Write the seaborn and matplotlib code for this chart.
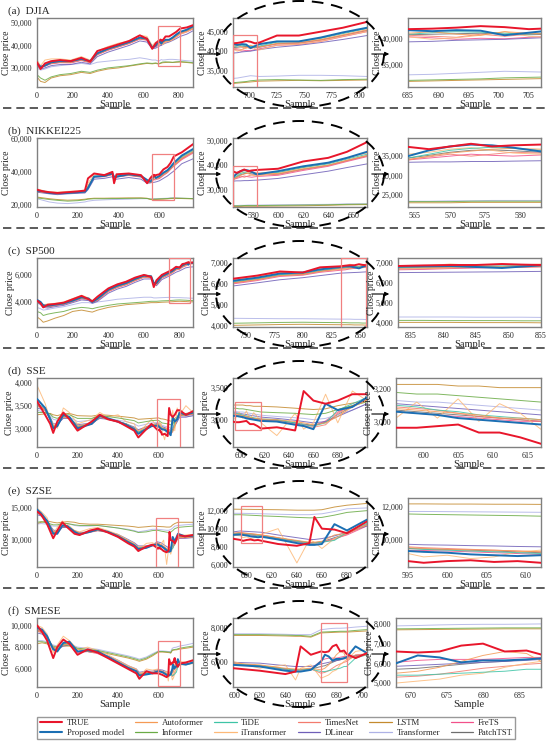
import numpy as np
import pandas as pd
import matplotlib
matplotlib.use('Agg')
import matplotlib.pyplot as plt
import seaborn as sns
from matplotlib.patches import Ellipse, Rectangle, FancyArrowPatch
from matplotlib.lines import Line2D
from matplotlib.ticker import FuncFormatter

# Model names in legend order (column-major, 6 columns x 2 rows)
MODELS = ['TRUE', 'Proposed model', 'Autoformer', 'Informer', 'TiDE', 'iTransformer',
          'TimesNet', 'DLinear', 'LSTM', 'Transformer', 'FreTS', 'PatchTST']

# Prices below are in thousands
PRICE_UNIT = 1000

# ---------------- (a) DJIA ----------------
DJIA_X = [0, 20, 45, 80, 130, 190, 250, 300, 340, 400, 460, 520, 580, 620, 650,
          670, 685, 689, 693, 697, 701, 705, 709, 725, 745, 765, 785, 807, 845, 880]
DJIA_TRUE = [32.5, 29.5, 32.0, 33.0, 33.5, 33.0, 34.5, 32.8, 37.5, 39.0, 40.5, 42.0, 44.5, 43.0, 38.5,
             41.0, 42.0, 42.1, 42.3, 42.6, 42.4, 42.0, 42.2, 44.0, 44.0, 45.0, 46.0, 47.5, 48.0, 49.0]
DJIA_PROPOSED = [32.0, 30.5, 31.0, 32.5, 33.0, 33.0, 34.0, 33.0, 36.5, 38.5, 40.0, 41.5, 43.5, 43.0, 39.0,
                 40.0, 41.8, 41.6, 41.8, 41.7, 40.8, 41.3, 41.8, 42.5, 42.5, 43.5, 44.8, 46.0, 47.0, 48.5]
DJIA_AUTOFORMER = [31.5, 30.0, 31.0, 32.0, 32.5, 32.5, 33.5, 32.5, 36.0, 38.0, 39.5, 41.0, 43.0, 42.5, 39.5,
                   39.8, 41.2, 41.5, 41.0, 40.8, 41.5, 41.2, 41.0, 42.0, 42.2, 43.0, 44.2, 45.5, 46.5, 47.8]
DJIA_INFORMER = [27.0, 25.5, 24.5, 26.0, 27.0, 27.5, 28.5, 28.0, 29.0, 30.0, 30.5, 31.0, 31.8, 32.2, 32.0,
                 32.2, 31.9, 32.0, 32.1, 32.2, 32.4, 32.5, 32.6, 32.7, 32.6, 32.5, 32.7, 32.8, 32.6, 32.3]
DJIA_TIDE = [32.0, 30.5, 31.5, 32.5, 33.0, 32.8, 34.0, 33.0, 36.5, 38.5, 40.0, 41.5, 43.5, 42.8, 39.5,
             40.0, 41.0, 41.3, 41.5, 41.4, 41.2, 41.0, 41.3, 42.3, 42.5, 43.3, 44.5, 45.8, 46.8, 48.0]
DJIA_ITRANSFORMER = [33.5, 31.0, 33.5, 34.0, 34.0, 33.5, 35.0, 33.5, 37.5, 39.5, 41.0, 42.0, 44.5, 44.0, 40.0,
                     41.5, 40.5, 40.0, 40.3, 40.8, 41.5, 40.6, 40.3, 41.5, 41.8, 42.5, 43.8, 45.0, 46.0, 47.5]
DJIA_TIMESNET = [31.8, 30.2, 31.2, 32.2, 32.8, 32.6, 33.8, 32.6, 36.2, 38.2, 39.8, 41.2, 43.2, 42.6, 39.2,
                 39.6, 40.8, 40.6, 40.4, 41.0, 40.6, 41.0, 41.2, 41.8, 42.0, 42.8, 44.0, 45.3, 46.3, 47.6]
DJIA_DLINEAR = [31.0, 29.5, 30.0, 31.0, 31.5, 31.5, 32.5, 31.8, 35.0, 37.0, 38.5, 40.0, 42.0, 41.5, 38.5,
                38.8, 39.5, 39.6, 39.8, 39.9, 40.0, 40.2, 40.4, 41.0, 41.5, 42.2, 43.0, 44.0, 45.0, 46.5]
DJIA_LSTM = [26.0, 24.0, 23.5, 25.5, 26.5, 27.0, 28.0, 27.5, 28.5, 29.5, 30.0, 30.8, 31.5, 32.0, 31.8,
             32.0, 31.7, 31.8, 31.9, 32.0, 32.1, 32.2, 32.3, 32.4, 32.5, 32.4, 32.5, 32.6, 32.4, 32.1]
DJIA_TRANSFORMER = [30.0, 29.0, 29.5, 30.5, 31.0, 31.5, 32.0, 31.5, 32.5, 33.0, 33.5, 33.8, 34.5, 34.0, 33.5,
                    33.5, 33.0, 33.1, 33.3, 33.5, 33.7, 33.6, 33.5, 33.6, 33.8, 33.8, 33.7, 33.5, 33.2, 33.0]
DJIA_FRETS = [31.5, 29.8, 30.8, 31.8, 32.3, 32.2, 33.3, 32.3, 35.8, 37.8, 39.3, 40.8, 42.8, 42.3, 39.0,
              39.3, 40.5, 40.3, 40.0, 40.2, 40.1, 40.4, 40.6, 41.5, 41.7, 42.5, 43.7, 45.0, 46.0, 47.3]
DJIA_PATCHTST = [31.7, 30.0, 31.0, 32.0, 32.5, 32.4, 33.5, 32.5, 36.0, 38.0, 39.5, 41.0, 43.0, 42.5, 39.3,
                 39.5, 40.9, 41.0, 41.1, 41.2, 41.0, 40.9, 41.0, 41.9, 42.1, 42.9, 44.0, 45.3, 46.3, 47.5]

# ---------------- (b) NIKKEI225 ----------------
NIKKEI_X = [0, 30, 60, 100, 150, 200, 235, 250, 280, 330, 370, 378, 390, 450, 510, 540,
            555, 564, 567, 570, 573, 576, 579, 583, 600, 620, 640, 655, 671, 710, 765]
NIKKEI_TRUE = [29.0, 28.0, 27.5, 27.0, 27.5, 28.0, 28.5, 36.0, 39.0, 38.0, 40.0, 33.0, 38.5, 39.0, 38.0, 33.0,
               36.0, 37.4, 36.8, 37.5, 38.2, 37.5, 37.8, 38.0, 38.5, 41.5, 43.0, 45.5, 49.5, 52.0, 57.0]
NIKKEI_PROPOSED = [28.5, 28.0, 27.0, 26.8, 27.0, 27.5, 27.8, 30.0, 37.0, 37.5, 39.0, 37.0, 37.0, 38.5, 37.5, 35.0,
                   34.0, 35.0, 36.5, 37.5, 38.0, 37.8, 37.2, 36.2, 37.5, 39.5, 41.0, 43.0, 45.5, 50.0, 54.0]
NIKKEI_AUTOFORMER = [28.0, 27.5, 27.0, 26.5, 27.0, 27.3, 27.8, 31.5, 37.0, 37.2, 38.5, 36.0, 37.0, 38.0, 37.0, 34.0,
                     33.5, 34.0, 35.0, 35.8, 36.3, 36.8, 37.0, 36.8, 36.5, 38.5, 40.0, 42.0, 44.0, 48.5, 52.5]
NIKKEI_INFORMER = [24.0, 23.5, 23.0, 22.5, 22.0, 22.3, 22.8, 23.2, 23.5, 23.5, 23.6, 23.6, 23.6, 23.7, 23.8, 23.6,
                   23.3, 23.2, 23.2, 23.2, 23.3, 23.3, 23.3, 23.3, 23.4, 23.5, 23.6, 23.8, 23.9, 23.8, 23.6]
NIKKEI_TIDE = [28.5, 27.8, 27.2, 26.8, 27.2, 27.6, 28.0, 31.0, 37.5, 37.5, 39.0, 36.5, 37.5, 38.5, 37.5, 34.5,
               34.0, 34.5, 35.5, 36.5, 37.0, 37.3, 37.0, 36.5, 37.0, 39.0, 40.5, 42.5, 44.5, 49.0, 53.0]
NIKKEI_ITRANSFORMER = [29.5, 28.5, 27.8, 27.5, 28.0, 28.2, 28.5, 33.0, 38.5, 38.0, 39.5, 35.0, 38.0, 38.8, 37.8, 33.5,
                       35.0, 35.5, 36.0, 36.8, 37.2, 36.5, 35.8, 35.5, 36.8, 39.0, 40.8, 43.0, 45.0, 49.5, 53.5]
NIKKEI_TIMESNET = [28.2, 27.6, 27.0, 26.6, 27.0, 27.4, 27.8, 30.5, 37.2, 37.3, 38.8, 35.5, 37.2, 38.2, 37.2, 34.0,
                   33.5, 34.2, 34.8, 35.5, 35.0, 35.5, 36.0, 35.8, 36.2, 38.2, 39.8, 41.8, 43.8, 48.0, 52.0]
NIKKEI_DLINEAR = [27.5, 27.0, 26.5, 26.0, 26.5, 26.8, 27.0, 29.0, 35.5, 36.0, 37.0, 35.0, 35.5, 36.5, 35.5, 33.0,
                  33.3, 33.4, 33.5, 33.5, 33.6, 33.6, 33.7, 33.8, 34.5, 36.0, 37.5, 39.0, 40.5, 45.0, 48.0]
NIKKEI_LSTM = [24.5, 24.0, 23.5, 23.0, 22.6, 22.8, 23.2, 23.5, 23.8, 23.8, 23.9, 23.9, 23.9, 24.0, 24.0, 23.8,
               23.0, 22.9, 22.9, 22.9, 23.0, 23.0, 23.0, 23.0, 23.1, 23.2, 23.4, 23.6, 23.7, 23.6, 23.4]
NIKKEI_TRANSFORMER = [23.5, 22.5, 21.5, 20.8, 20.5, 21.0, 21.5, 22.0, 22.5, 22.8, 23.0, 23.0, 23.0, 23.2, 23.5, 23.5,
                      23.4, 23.3, 23.3, 23.4, 23.4, 23.5, 23.5, 23.5, 23.6, 23.7, 23.8, 24.0, 24.0, 23.8, 23.5]
NIKKEI_FRETS = [27.8, 27.3, 26.8, 26.4, 26.8, 27.2, 27.6, 30.0, 36.8, 37.0, 38.3, 35.5, 36.8, 37.8, 36.8, 33.5,
                33.2, 34.0, 34.5, 35.0, 35.5, 35.2, 35.0, 35.3, 35.8, 37.8, 39.5, 41.5, 43.5, 47.5, 51.5]
NIKKEI_PATCHTST = [28.0, 27.5, 27.0, 26.6, 27.0, 27.4, 27.8, 30.8, 37.0, 37.2, 38.6, 36.0, 37.0, 38.0, 37.0, 34.0,
                   33.8, 34.5, 35.2, 36.0, 36.5, 36.6, 36.4, 36.0, 36.3, 38.3, 39.9, 41.9, 43.9, 48.2, 52.2]

# ---------------- (c) SP500 ----------------
SP500_X = [0, 20, 35, 60, 100, 150, 200, 250, 290, 310, 340, 400, 450, 500, 550, 600, 640,
           655, 670, 700, 739, 760, 780, 800, 815, 833, 837, 841, 845, 849, 852, 855, 880]
SP500_TRUE = [4.10, 3.90, 3.60, 3.80, 3.85, 3.95, 4.20, 4.45, 4.20, 4.05, 4.40, 5.00, 5.30, 5.50, 5.80, 6.00, 5.85,
              5.10, 5.60, 6.00, 6.25, 6.40, 6.60, 6.55, 6.80, 6.85, 6.88, 6.90, 6.90, 6.95, 6.92, 6.90, 6.92]
SP500_PROPOSED = [4.15, 4.00, 3.75, 3.72, 3.80, 3.90, 4.10, 4.35, 4.25, 4.00, 4.25, 4.90, 5.20, 5.40, 5.70, 5.95, 5.90,
                  5.40, 5.40, 5.90, 6.15, 6.30, 6.50, 6.55, 6.70, 6.82, 6.85, 6.85, 6.80, 6.75, 6.82, 6.88, 6.90]
SP500_AUTOFORMER = [4.05, 3.90, 3.70, 3.65, 3.75, 3.85, 4.05, 4.28, 4.18, 3.98, 4.15, 4.80, 5.10, 5.30, 5.60, 5.85, 5.80,
                    5.40, 5.30, 5.80, 6.05, 6.20, 6.40, 6.45, 6.60, 6.70, 6.72, 6.75, 6.78, 6.80, 6.82, 6.84, 6.85]
SP500_INFORMER = [3.30, 3.20, 3.00, 3.10, 3.20, 3.30, 3.50, 3.60, 3.55, 3.50, 3.60, 3.75, 3.85, 3.90, 3.95, 4.00, 4.05,
                  4.05, 4.05, 4.08, 4.10, 4.12, 4.14, 4.15, 4.14, 4.13, 4.13, 4.12, 4.12, 4.12, 4.11, 4.11, 4.10]
SP500_TIDE = [4.10, 3.95, 3.75, 3.70, 3.78, 3.88, 4.10, 4.30, 4.22, 4.00, 4.20, 4.85, 5.15, 5.35, 5.65, 5.90, 5.85,
              5.45, 5.35, 5.85, 6.10, 6.25, 6.45, 6.50, 6.65, 6.78, 6.80, 6.82, 6.84, 6.85, 6.86, 6.86, 6.88]
SP500_ITRANSFORMER = [4.20, 4.00, 3.80, 3.85, 3.90, 4.00, 4.25, 4.50, 4.30, 4.10, 4.35, 5.00, 5.30, 5.50, 5.80, 6.00, 5.95,
                      5.30, 5.50, 5.95, 6.20, 6.35, 6.55, 6.55, 6.75, 6.80, 6.85, 6.95, 6.88, 6.82, 6.90, 6.95, 6.93]
SP500_TIMESNET = [4.08, 3.92, 3.72, 3.66, 3.76, 3.86, 4.06, 4.27, 4.20, 3.99, 4.16, 4.82, 5.12, 5.32, 5.62, 5.87, 5.82,
                  5.42, 5.32, 5.82, 6.06, 6.22, 6.42, 6.47, 6.62, 6.74, 6.76, 6.79, 6.82, 6.80, 6.78, 6.80, 6.84]
SP500_DLINEAR = [3.95, 3.80, 3.60, 3.55, 3.65, 3.75, 3.95, 4.15, 4.10, 3.90, 4.05, 4.65, 4.95, 5.15, 5.45, 5.70, 5.70,
                 5.35, 5.20, 5.65, 5.90, 6.05, 6.20, 6.30, 6.40, 6.52, 6.53, 6.54, 6.55, 6.56, 6.57, 6.58, 6.60]
SP500_LSTM = [2.90, 2.70, 2.50, 2.60, 2.80, 3.00, 3.30, 3.40, 3.30, 3.25, 3.40, 3.60, 3.70, 3.80, 3.85, 3.90, 3.95,
              3.95, 3.95, 3.98, 4.00, 4.02, 4.04, 4.05, 4.04, 4.03, 4.03, 4.03, 4.02, 4.02, 4.02, 4.01, 4.01]
SP500_TRANSFORMER = [3.60, 3.50, 3.40, 3.45, 3.55, 3.65, 3.80, 3.95, 3.95, 3.90, 4.00, 4.10, 4.20, 4.25, 4.30, 4.35, 4.35,
                     4.30, 4.30, 4.32, 4.34, 4.33, 4.32, 4.32, 4.31, 4.30, 4.30, 4.30, 4.29, 4.29, 4.29, 4.28, 4.28]
SP500_FRETS = [4.02, 3.88, 3.68, 3.63, 3.72, 3.82, 4.02, 4.24, 4.15, 3.95, 4.12, 4.76, 5.06, 5.26, 5.56, 5.82, 5.78,
               5.38, 5.28, 5.76, 6.00, 6.16, 6.36, 6.42, 6.56, 6.66, 6.68, 6.72, 6.75, 6.78, 6.80, 6.82, 6.84]
SP500_PATCHTST = [4.06, 3.91, 3.71, 3.66, 3.75, 3.85, 4.05, 4.27, 4.19, 3.98, 4.15, 4.81, 5.11, 5.31, 5.61, 5.86, 5.81,
                  5.41, 5.31, 5.81, 6.05, 6.21, 6.41, 6.46, 6.61, 6.76, 6.78, 6.80, 6.83, 6.84, 6.85, 6.86, 6.87]

# ---------------- (d) SSE ----------------
SSE_X = [0, 40, 65, 80, 100, 130, 160, 200, 270, 310, 350, 400, 440, 480, 500, 565, 596,
         599, 602, 605, 608, 611, 614, 617, 630, 645, 652, 660, 670, 680, 692, 704, 735, 770]
SSE_TRUE = [3.60, 3.30, 3.10, 2.90, 3.15, 3.35, 3.20, 2.95, 3.15, 3.30, 3.20, 3.15, 3.05, 2.95, 2.80, 3.10, 2.96,
            2.96, 2.97, 2.98, 2.93, 2.93, 2.90, 2.86, 2.88, 2.83, 3.45, 3.30, 3.25, 3.30, 3.40, 3.40, 3.30, 3.38]
SSE_PROPOSED = [3.65, 3.45, 3.20, 3.00, 3.05, 3.30, 3.25, 3.00, 3.10, 3.28, 3.22, 3.15, 3.08, 2.98, 2.88, 3.05, 3.06,
                3.05, 3.04, 3.02, 3.01, 3.00, 2.99, 2.98, 2.97, 2.92, 2.90, 2.85, 3.25, 3.15, 3.20, 3.35, 3.30, 3.35]
SSE_AUTOFORMER = [3.50, 3.40, 3.22, 3.05, 3.10, 3.25, 3.22, 3.05, 3.12, 3.25, 3.20, 3.15, 3.10, 3.00, 2.95, 3.08, 3.08,
                  3.07, 3.06, 3.05, 3.04, 3.02, 3.02, 3.01, 3.00, 2.97, 2.95, 2.92, 2.95, 3.05, 3.20, 3.30, 3.28, 3.32]
SSE_INFORMER = [3.35, 3.35, 3.32, 3.25, 3.22, 3.30, 3.30, 3.22, 3.22, 3.28, 3.26, 3.23, 3.20, 3.17, 3.12, 3.17, 3.18,
                3.17, 3.17, 3.16, 3.15, 3.14, 3.13, 3.12, 3.11, 3.10, 3.09, 3.08, 3.10, 3.16, 3.22, 3.28, 3.30, 3.33]
SSE_TIDE = [3.55, 3.45, 3.25, 3.05, 3.08, 3.28, 3.25, 3.05, 3.10, 3.25, 3.22, 3.15, 3.10, 3.00, 2.92, 3.05, 3.10,
            3.09, 3.07, 3.06, 3.04, 3.03, 3.02, 3.01, 3.00, 2.95, 2.92, 2.90, 2.95, 3.15, 3.25, 3.35, 3.30, 3.33]
SSE_ITRANSFORMER = [3.95, 3.55, 3.20, 3.10, 3.00, 3.45, 3.35, 3.10, 3.20, 3.35, 3.25, 3.30, 3.15, 3.10, 2.90, 3.20, 3.02,
                    3.12, 3.02, 3.14, 3.00, 3.11, 3.05, 2.95, 2.75, 3.10, 2.85, 2.95, 3.40, 2.95, 3.45, 3.30, 3.50, 3.35]
SSE_TIMESNET = [3.55, 3.42, 3.20, 3.02, 3.08, 3.27, 3.23, 3.03, 3.11, 3.26, 3.21, 3.14, 3.08, 2.99, 2.90, 3.06, 3.09,
                3.08, 3.07, 3.05, 3.03, 3.02, 3.01, 3.00, 2.98, 2.93, 2.90, 2.88, 2.92, 3.10, 3.22, 3.32, 3.30, 3.34]
SSE_DLINEAR = [3.45, 3.40, 3.25, 3.10, 3.10, 3.22, 3.22, 3.08, 3.12, 3.22, 3.20, 3.15, 3.10, 3.03, 2.97, 3.08, 3.11,
               3.10, 3.09, 3.08, 3.07, 3.06, 3.05, 3.04, 3.02, 2.99, 2.97, 2.95, 2.97, 3.05, 3.15, 3.25, 3.25, 3.28]
SSE_LSTM = [3.30, 3.32, 3.33, 3.30, 3.28, 3.32, 3.33, 3.28, 3.27, 3.30, 3.29, 3.27, 3.25, 3.23, 3.20, 3.22, 3.23,
            3.23, 3.23, 3.22, 3.22, 3.21, 3.21, 3.21, 3.20, 3.18, 3.17, 3.16, 3.17, 3.22, 3.26, 3.30, 3.33, 3.35]
SSE_TRANSFORMER = [3.40, 3.35, 3.30, 3.20, 3.18, 3.25, 3.25, 3.15, 3.18, 3.25, 3.22, 3.18, 3.15, 3.10, 3.05, 3.12, 3.13,
                   3.12, 3.12, 3.11, 3.10, 3.09, 3.08, 3.07, 3.05, 3.03, 3.02, 3.00, 3.02, 3.08, 3.15, 3.25, 3.25, 3.28]
SSE_FRETS = [3.50, 3.40, 3.20, 3.02, 3.06, 3.25, 3.22, 3.02, 3.09, 3.24, 3.20, 3.13, 3.07, 2.98, 2.90, 3.04, 3.06,
             3.05, 3.04, 3.03, 3.02, 3.01, 3.00, 3.00, 2.97, 2.93, 2.92, 2.90, 2.98, 3.12, 3.22, 3.30, 3.28, 3.31]
SSE_PATCHTST = [3.52, 3.42, 3.22, 3.03, 3.07, 3.26, 3.23, 3.04, 3.10, 3.25, 3.21, 3.14, 3.09, 3.00, 2.92, 3.06, 3.07,
                3.06, 3.05, 3.04, 3.03, 3.02, 3.01, 3.00, 2.99, 2.95, 2.93, 2.91, 2.96, 3.08, 3.21, 3.31, 3.29, 3.32]

# ---------------- (e) SZSE ----------------
SZSE_X = [0, 20, 50, 80, 100, 125, 150, 185, 210, 260, 300, 350, 400, 450, 480, 500, 540, 570,
          595, 597, 600, 603, 606, 609, 612, 625, 640, 650, 654, 660, 670, 680, 696, 730, 770]
SZSE_TRUE = [14.5, 14.0, 12.5, 10.3, 11.5, 12.8, 12.0, 11.0, 10.8, 11.5, 11.8, 11.2, 10.5, 9.5, 9.0, 8.3, 9.0, 9.3,
             8.75, 8.65, 8.75, 8.80, 8.70, 8.75, 8.65, 8.30, 8.10, 8.40, 11.30, 10.00, 9.90, 9.50, 10.80, 10.60, 10.80]
SZSE_PROPOSED = [14.8, 14.2, 13.0, 11.0, 11.0, 12.3, 12.2, 11.3, 10.9, 11.3, 11.7, 11.3, 10.6, 9.7, 9.2, 8.6, 8.8, 9.2,
                 9.35, 9.30, 9.25, 9.15, 9.10, 9.05, 9.10, 8.80, 8.40, 8.20, 8.20, 8.30, 10.50, 9.80, 11.00, 10.60, 10.70]
SZSE_AUTOFORMER = [14.3, 14.0, 13.0, 11.4, 11.3, 12.1, 12.1, 11.5, 11.1, 11.3, 11.5, 11.3, 10.8, 9.9, 9.4, 8.9, 9.0, 9.2,
                   9.55, 9.50, 9.45, 9.42, 9.40, 9.35, 9.30, 9.00, 8.70, 8.50, 8.50, 8.60, 9.30, 9.50, 10.40, 10.40, 10.50]
SZSE_INFORMER = [12.8, 12.9, 12.7, 12.4, 12.4, 12.6, 12.6, 12.4, 12.3, 12.3, 12.3, 12.1, 11.9, 11.6, 11.4, 11.2, 11.3, 11.5,
                 11.55, 11.53, 11.51, 11.49, 11.47, 11.45, 11.42, 11.35, 11.25, 11.20, 11.20, 11.25, 11.50, 11.80, 12.00, 12.10, 12.20]
SZSE_TIDE = [14.6, 14.1, 13.1, 11.2, 11.2, 12.2, 12.2, 11.4, 11.0, 11.3, 11.6, 11.3, 10.7, 9.8, 9.3, 8.8, 8.9, 9.2,
             9.50, 9.45, 9.40, 9.35, 9.30, 9.25, 9.20, 8.90, 8.60, 8.40, 8.40, 8.50, 8.70, 9.60, 10.60, 10.50, 10.60]
SZSE_ITRANSFORMER = [15.0, 14.5, 13.5, 11.0, 12.0, 13.0, 12.5, 11.5, 11.3, 11.8, 12.0, 11.5, 10.9, 10.0, 9.5, 8.5, 9.5, 9.6,
                     9.20, 9.00, 9.10, 8.90, 9.00, 9.30, 9.40, 10.00, 6.20, 8.80, 8.50, 7.80, 8.90, 9.50, 10.80, 10.80, 10.90]
SZSE_TIMESNET = [14.5, 14.1, 13.0, 11.3, 11.2, 12.2, 12.1, 11.4, 11.0, 11.3, 11.6, 11.3, 10.7, 9.8, 9.3, 8.8, 8.9, 9.2,
                 9.60, 9.55, 9.50, 9.45, 9.40, 9.35, 9.30, 9.00, 8.60, 8.40, 8.45, 8.50, 8.80, 9.40, 10.50, 10.45, 10.55]
SZSE_DLINEAR = [14.0, 13.8, 13.0, 11.6, 11.4, 12.0, 12.0, 11.5, 11.2, 11.3, 11.5, 11.3, 10.9, 10.1, 9.6, 9.1, 9.1, 9.3,
                9.75, 9.72, 9.70, 9.67, 9.65, 9.62, 9.60, 9.30, 9.00, 8.80, 8.80, 8.90, 9.20, 9.60, 10.30, 10.30, 10.40]
SZSE_LSTM = [12.6, 12.8, 13.0, 12.8, 12.7, 12.8, 12.9, 12.8, 12.6, 12.5, 12.5, 12.4, 12.3, 12.2, 12.1, 12.0, 12.1, 12.2,
             12.15, 12.15, 12.14, 12.14, 12.13, 12.13, 12.12, 12.10, 12.05, 12.05, 12.05, 12.10, 12.40, 12.60, 12.80, 12.80, 12.80]
SZSE_TRANSFORMER = [12.5, 12.6, 12.5, 12.2, 12.2, 12.5, 12.6, 12.3, 12.2, 12.2, 12.3, 12.1, 11.9, 11.7, 11.5, 11.3, 11.5, 11.7,
                    11.70, 11.70, 11.69, 11.68, 11.67, 11.66, 11.65, 11.60, 11.55, 11.55, 11.60, 11.65, 11.90, 12.20, 12.30, 12.40, 12.50]
SZSE_FRETS = [14.3, 13.9, 12.9, 11.2, 11.1, 12.0, 12.0, 11.3, 10.9, 11.2, 11.5, 11.2, 10.6, 9.7, 9.2, 8.7, 8.8, 9.1,
              9.40, 9.38, 9.35, 9.30, 9.25, 9.20, 9.15, 8.85, 8.55, 8.35, 8.40, 8.45, 8.90, 9.30, 10.30, 10.35, 10.45]
SZSE_PATCHTST = [14.4, 14.0, 13.0, 11.3, 11.2, 12.1, 12.1, 11.4, 11.0, 11.3, 11.6, 11.3, 10.7, 9.8, 9.3, 8.8, 8.9, 9.2,
                 9.50, 9.47, 9.44, 9.40, 9.35, 9.30, 9.25, 8.95, 8.65, 8.45, 8.45, 8.55, 9.00, 9.45, 10.45, 10.45, 10.55]

# ---------------- (f) SMESE ----------------
SMESE_X = [0, 25, 50, 80, 100, 130, 160, 200, 250, 300, 350, 400, 450, 490, 505, 540, 570, 599,
           620, 640, 648, 652, 660, 668, 671, 674, 677, 680, 683, 686, 688, 695, 704, 735, 770]
SMESE_TRUE = [10.0, 9.4, 8.6, 7.0, 8.0, 8.7, 8.3, 7.3, 7.8, 7.5, 7.0, 6.5, 6.0, 5.6, 5.1, 5.8, 5.6, 5.60,
              5.45, 5.25, 5.40, 6.90, 6.40, 6.60, 6.55, 6.60, 6.90, 7.00, 6.60, 6.65, 6.45, 6.20, 6.50, 6.60, 6.80]
SMESE_PROPOSED = [9.8, 9.6, 9.0, 7.8, 7.6, 8.4, 8.5, 7.6, 7.7, 7.6, 7.1, 6.6, 6.1, 5.8, 5.4, 5.5, 5.6, 5.80,
                  5.70, 5.45, 5.40, 5.40, 5.50, 6.00, 6.40, 6.30, 6.05, 6.15, 6.15, 6.20, 6.25, 6.90, 6.50, 6.40, 6.60]
SMESE_AUTOFORMER = [9.5, 9.3, 8.9, 8.0, 7.8, 8.2, 8.3, 7.6, 7.6, 7.5, 7.1, 6.7, 6.2, 5.9, 5.6, 5.7, 5.7, 5.90,
                    5.80, 5.60, 5.55, 5.55, 5.60, 5.50, 5.60, 5.80, 6.10, 6.40, 6.60, 6.50, 6.10, 6.30, 6.40, 6.40, 6.50]
SMESE_INFORMER = [8.5, 8.5, 8.4, 8.1, 8.0, 8.2, 8.2, 7.9, 7.8, 7.7, 7.5, 7.3, 7.1, 6.9, 6.8, 7.0, 7.3, 7.60,
                  7.60, 7.57, 7.55, 7.55, 7.50, 7.75, 7.76, 7.77, 7.78, 7.79, 7.80, 7.80, 7.80, 7.85, 7.90, 8.00, 8.10]
SMESE_TIDE = [9.7, 9.5, 9.0, 7.9, 7.7, 8.3, 8.4, 7.6, 7.7, 7.5, 7.1, 6.6, 6.1, 5.8, 5.5, 5.6, 5.6, 5.85,
              5.75, 5.55, 5.50, 5.50, 5.55, 5.40, 5.40, 5.45, 5.50, 5.55, 5.60, 5.70, 5.70, 6.20, 6.40, 6.40, 6.55]
SMESE_ITRANSFORMER = [10.0, 9.8, 9.2, 7.5, 8.2, 9.0, 8.6, 7.8, 8.0, 7.7, 7.3, 6.8, 6.3, 6.0, 5.4, 6.0, 5.9, 6.00,
                      5.60, 5.80, 4.90, 5.60, 5.80, 5.00, 5.10, 5.20, 5.40, 5.50, 5.80, 6.00, 6.10, 6.60, 6.70, 6.60, 6.70]
SMESE_TIMESNET = [9.6, 9.4, 8.9, 7.9, 7.7, 8.3, 8.3, 7.6, 7.6, 7.5, 7.1, 6.6, 6.1, 5.8, 5.5, 5.6, 5.6, 5.85,
                  5.75, 5.55, 5.50, 5.50, 5.55, 5.30, 5.35, 5.45, 5.60, 5.75, 5.85, 5.95, 6.00, 6.40, 6.45, 6.45, 6.55]
SMESE_DLINEAR = [9.3, 9.2, 8.8, 8.0, 7.8, 8.1, 8.2, 7.6, 7.6, 7.5, 7.2, 6.8, 6.3, 6.0, 5.7, 5.8, 5.8, 5.95,
                 5.90, 5.75, 5.70, 5.70, 5.70, 5.85, 5.90, 5.95, 6.00, 6.05, 6.10, 6.15, 6.20, 6.30, 6.40, 6.45, 6.55]
SMESE_LSTM = [8.3, 8.4, 8.3, 8.0, 7.9, 8.1, 8.1, 7.8, 7.7, 7.6, 7.4, 7.2, 7.0, 6.8, 6.7, 6.9, 7.2, 7.55,
              7.55, 7.52, 7.50, 7.50, 7.45, 7.70, 7.71, 7.72, 7.73, 7.74, 7.75, 7.75, 7.75, 7.78, 7.82, 7.90, 8.00]
SMESE_TRANSFORMER = [8.6, 8.6, 8.5, 8.2, 8.1, 8.3, 8.3, 8.0, 7.9, 7.8, 7.6, 7.4, 7.2, 7.0, 6.9, 7.1, 7.4, 7.65,
                     7.65, 7.62, 7.60, 7.60, 7.60, 7.90, 7.92, 7.95, 7.97, 7.98, 7.98, 7.99, 8.00, 8.05, 8.10, 8.20, 8.35]
SMESE_FRETS = [9.5, 9.3, 8.8, 7.9, 7.7, 8.2, 8.3, 7.5, 7.6, 7.4, 7.0, 6.6, 6.1, 5.8, 5.5, 5.6, 5.6, 5.85,
               5.75, 5.55, 5.50, 5.50, 5.55, 6.05, 6.15, 6.20, 6.20, 6.20, 6.25, 6.30, 6.30, 6.30, 6.45, 6.45, 6.55]
SMESE_PATCHTST = [9.6, 9.4, 8.9, 7.9, 7.7, 8.3, 8.3, 7.6, 7.6, 7.5, 7.1, 6.6, 6.1, 5.8, 5.5, 5.6, 5.6, 5.85,
                  5.75, 5.55, 5.50, 5.50, 5.55, 5.70, 5.75, 5.85, 5.95, 6.05, 6.10, 6.20, 6.25, 6.35, 6.45, 6.45, 6.55]

ROW_TITLES = ['(a)  DJIA', '(b)  NIKKEI225', '(c)  SP500', '(d)  SSE', '(e)  SZSE', '(f)  SMESE']

COLORS = {
    'TRUE': '#e8162b', 'Proposed model': '#1b6fb3', 'Autoformer': '#f59a55', 'Informer': '#6aab45',
    'TiDE': '#3ec4a6', 'iTransformer': '#fdb978', 'TimesNet': '#f37b6e', 'DLinear': '#6f5fb8',
    'LSTM': '#c48a2e', 'Transformer': '#aeb2e6', 'FreTS': '#f2508a', 'PatchTST': '#6e6e6e',
}

# per-row view settings: (xlim, ylim in thousands, xticks, yticks in thousands) for left / middle / right panels
VIEWS = [
    [((0, 880), (21.5, 52.2), [0, 200, 400, 600, 800], [30, 40, 50]),
     ((685, 807), (30.8, 48.5), [700, 725, 750, 775, 800], [35, 40, 45]),
     ((685, 707), (30.6, 44.2), [685, 690, 695, 700, 705], [35, 40])],
    [((0, 765), (18.4, 60.8), [0, 200, 400, 600], [20, 40, 60]),
     ((564, 671), (22.7, 51.2), [580, 600, 620, 640, 660], [30, 40, 50]),
     ((564, 583), (21.8, 39.7), [565, 570, 575, 580], [25, 30, 35])],
    [((0, 875), (2.15, 7.25), [0, 200, 400, 600, 800], [4, 6]),
     ((739, 856), (3.92, 7.25), [750, 775, 800, 825, 850], [4, 5, 6, 7]),
     ((833, 855), (3.80, 7.25), [835, 840, 845, 850, 855], [4, 5, 6, 7])],
    [((0, 770), (2.59, 4.11), [0, 200, 400, 600], [3.0, 3.5, 4.0]),
     ((594, 704), (2.57, 3.655), [600, 620, 640, 660, 680], [3.0, 3.5]),
     ((596, 617), (2.84, 3.27), [600, 605, 610, 615], [3.0, 3.2])],
    [((0, 770), (5.8, 16.6), [0, 200, 400, 600], [10, 15]),
     ((589, 696), (5.75, 13.4), [600, 620, 640, 660, 680], [6, 8, 10, 12]),
     ((595, 612), (8.4, 12.5), [595, 600, 605, 610], [10, 12])],
    [((0, 770), (4.35, 10.67), [0, 200, 400, 600], [6, 8, 10]),
     ((599, 704), (4.48, 8.59), [600, 620, 640, 660, 680, 700], [6, 8]),
     ((668, 688), (4.80, 8.30), [670, 675, 680, 685], [5, 6, 7, 8])],
]

DATASETS = [
    (DJIA_X, [DJIA_TRUE, DJIA_PROPOSED, DJIA_AUTOFORMER, DJIA_INFORMER, DJIA_TIDE, DJIA_ITRANSFORMER,
              DJIA_TIMESNET, DJIA_DLINEAR, DJIA_LSTM, DJIA_TRANSFORMER, DJIA_FRETS, DJIA_PATCHTST]),
    (NIKKEI_X, [NIKKEI_TRUE, NIKKEI_PROPOSED, NIKKEI_AUTOFORMER, NIKKEI_INFORMER, NIKKEI_TIDE, NIKKEI_ITRANSFORMER,
                NIKKEI_TIMESNET, NIKKEI_DLINEAR, NIKKEI_LSTM, NIKKEI_TRANSFORMER, NIKKEI_FRETS, NIKKEI_PATCHTST]),
    (SP500_X, [SP500_TRUE, SP500_PROPOSED, SP500_AUTOFORMER, SP500_INFORMER, SP500_TIDE, SP500_ITRANSFORMER,
               SP500_TIMESNET, SP500_DLINEAR, SP500_LSTM, SP500_TRANSFORMER, SP500_FRETS, SP500_PATCHTST]),
    (SSE_X, [SSE_TRUE, SSE_PROPOSED, SSE_AUTOFORMER, SSE_INFORMER, SSE_TIDE, SSE_ITRANSFORMER,
             SSE_TIMESNET, SSE_DLINEAR, SSE_LSTM, SSE_TRANSFORMER, SSE_FRETS, SSE_PATCHTST]),
    (SZSE_X, [SZSE_TRUE, SZSE_PROPOSED, SZSE_AUTOFORMER, SZSE_INFORMER, SZSE_TIDE, SZSE_ITRANSFORMER,
              SZSE_TIMESNET, SZSE_DLINEAR, SZSE_LSTM, SZSE_TRANSFORMER, SZSE_FRETS, SZSE_PATCHTST]),
    (SMESE_X, [SMESE_TRUE, SMESE_PROPOSED, SMESE_AUTOFORMER, SMESE_INFORMER, SMESE_TIDE, SMESE_ITRANSFORMER,
               SMESE_TIMESNET, SMESE_DLINEAR, SMESE_LSTM, SMESE_TRANSFORMER, SMESE_FRETS, SMESE_PATCHTST]),
]


def make_frame(x, series):
    parts = []
    for name, vals in zip(MODELS, series):
        assert len(vals) == len(x), (name, len(vals), len(x))
        parts.append(pd.DataFrame({'Sample': x, 'Close': np.array(vals) * PRICE_UNIT, 'Model': name}))
    return pd.concat(parts, ignore_index=True)


def draw_lines(ax, df):
    for name in MODELS[::-1]:
        main = name in ('TRUE', 'Proposed model')
        sns.lineplot(data=df[df['Model'] == name], x='Sample', y='Close', ax=ax,
                     color=COLORS[name], linewidth=1.4 if main else 0.7,
                     alpha=1.0 if main else 0.85, zorder=5 if name == 'TRUE' else (4 if main else 2),
                     legend=False, estimator=None, sort=False)


def style_axes(ax, view):
    xlim, ylim, xticks, yticks = view
    ax.set_xlim(xlim)
    ax.set_ylim(ylim[0] * PRICE_UNIT, ylim[1] * PRICE_UNIT)
    ax.set_xticks(xticks)
    ax.set_yticks([t * PRICE_UNIT for t in yticks])
    ax.yaxis.set_major_formatter(FuncFormatter(lambda v, p: f'{v:,.0f}'))
    ax.set_xlabel('Sample', fontsize=7.5, labelpad=0)
    ax.set_ylabel('Close price', fontsize=7, labelpad=0)
    ax.tick_params(labelsize=5.8, length=2.5, width=0.6, pad=1, color='#555555')
    for s in ax.spines.values():
        s.set_color('#808080')
        s.set_linewidth(1.0)


def zoom_box(ax, view):
    (x0, x1), (y0, y1) = view[0], view[1]
    ax.add_patch(Rectangle((x0, y0 * PRICE_UNIT), x1 - x0, (y1 - y0) * PRICE_UNIT,
                           fill=False, edgecolor='#f08080', linewidth=0.9, zorder=6))


sns.set_style('white')
plt.rcParams['font.family'] = ['Liberation Serif', 'DejaVu Serif']

W, H = 550, 741
fig = plt.figure(figsize=(W / 100, H / 100), dpi=100)


def px_axes(x0, x1, top, bottom):
    return fig.add_axes([x0 / W, 1 - bottom / H, (x1 - x0) / W, (bottom - top) / H])


ROW_TOPS = [18, 138, 258, 378, 498, 618]
AX_H = 69
RIGHT_X0 = [408, 408, 398, 396, 408, 396]

for i, (x, series) in enumerate(DATASETS):
    df = make_frame(x, series)
    top = ROW_TOPS[i]
    bottom = top + AX_H
    left_v, mid_v, right_v = VIEWS[i]

    ax_l = px_axes(37, 193, top, bottom)
    ax_m = px_axes(233, 367, top, bottom)
    ax_r = px_axes(RIGHT_X0[i], 541, top, bottom)
    for ax, view in ((ax_l, left_v), (ax_m, mid_v), (ax_r, right_v)):
        draw_lines(ax, df)
        style_axes(ax, view)
    zoom_box(ax_l, mid_v)
    zoom_box(ax_m, right_v)

    fig.text(8 / W, 1 - (top - 7) / H, ROW_TITLES[i], fontsize=8, va='center', ha='left')

    yc = top + 36
    fig.add_artist(Ellipse((300 / W, 1 - yc / H), 168 / W, 106 / H, transform=fig.transFigure,
                           fill=False, edgecolor='black', linewidth=1.4, linestyle=(0, (6, 4))))
    for xa, xb in ((195, 224), (369, 392)):
        fig.add_artist(FancyArrowPatch((xa / W, 1 - yc / H), (xb / W, 1 - yc / H),
                                       transform=fig.transFigure, arrowstyle='-|>',
                                       mutation_scale=6, linewidth=0.8, color='black'))
    if i < 5:
        ys = 1 - (bottom + 21) / H
        fig.add_artist(Line2D([0.005, 0.995], [ys, ys], transform=fig.transFigure,
                              color='#404040', linewidth=1.2, linestyle=(0, (5, 3))))

handles = [Line2D([0], [0], color=COLORS[m], linewidth=1.5 if m in ('TRUE', 'Proposed model') else 0.9)
           for m in MODELS]
fig.legend(handles, MODELS, ncol=6, loc='center', bbox_to_anchor=(276 / W, 1 - 728 / H),
           fontsize=6.3, frameon=True, fancybox=False, edgecolor='#808080', handlelength=2.6,
           columnspacing=1.2, handletextpad=0.5, borderpad=0.3, labelspacing=0.15)

fig.savefig('out.png', dpi=100)
